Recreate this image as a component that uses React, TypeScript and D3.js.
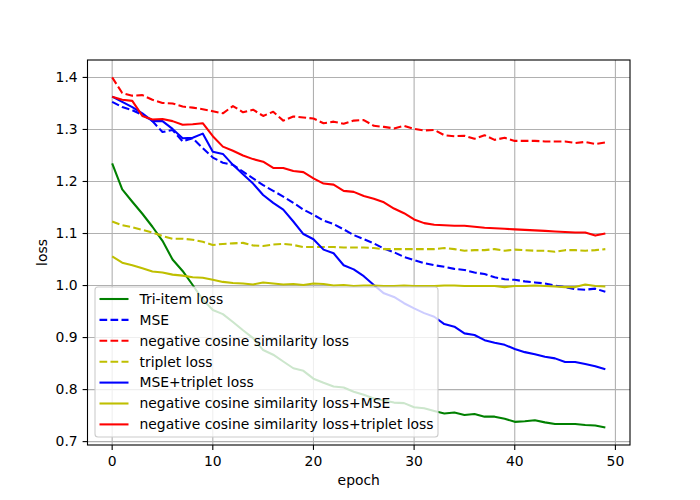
import React from 'react';
import * as d3 from 'd3';

// epochs 0..49
const epochs: number[] = d3.range(0, 50);

const triItem = [
  1.235, 1.185, 1.161, 1.138, 1.113, 1.086, 1.05, 1.028, 1.001, 0.973,
  0.953, 0.945, 0.93, 0.914, 0.899, 0.876, 0.867, 0.854, 0.841, 0.836,
  0.821, 0.813, 0.806, 0.804, 0.796, 0.79, 0.783, 0.779, 0.775, 0.774,
  0.766, 0.764, 0.759, 0.754, 0.756, 0.751, 0.753, 0.748, 0.748, 0.744,
  0.738, 0.739, 0.741, 0.737, 0.734, 0.734, 0.734, 0.732, 0.731, 0.727,
];
const mse = [
  1.353, 1.343, 1.337, 1.328, 1.316, 1.295, 1.299, 1.277, 1.283, 1.264,
  1.246, 1.236, 1.232, 1.219, 1.206, 1.193, 1.182, 1.171, 1.159, 1.146,
  1.136, 1.125, 1.118, 1.108, 1.097, 1.089, 1.081, 1.071, 1.064, 1.055,
  1.049, 1.043, 1.039, 1.036, 1.032, 1.03, 1.025, 1.022, 1.016, 1.012,
  1.011, 1.008, 1.006, 1.004, 1.0, 0.997, 0.993, 0.992, 0.994, 0.988,
];
const negCos = [
  1.4, 1.37, 1.365, 1.366, 1.357, 1.351, 1.35, 1.344, 1.342, 1.339,
  1.335, 1.331, 1.345, 1.333, 1.338, 1.326, 1.334, 1.317, 1.325, 1.323,
  1.321, 1.312, 1.315, 1.311, 1.317, 1.318, 1.307, 1.305, 1.302, 1.307,
  1.301, 1.298, 1.299, 1.289, 1.287, 1.288, 1.282, 1.289, 1.28, 1.284,
  1.278, 1.278, 1.278, 1.277, 1.277, 1.277, 1.274, 1.276, 1.272, 1.275,
];
const triplet = [
  1.123, 1.116, 1.112, 1.107, 1.102, 1.095, 1.09, 1.09, 1.088, 1.084,
  1.078, 1.08, 1.081, 1.082, 1.077, 1.076, 1.079, 1.08, 1.078, 1.074,
  1.074, 1.074, 1.074, 1.073, 1.073, 1.073, 1.072, 1.07, 1.07, 1.07,
  1.07, 1.07, 1.07, 1.072, 1.07, 1.067, 1.068, 1.068, 1.07, 1.067,
  1.069, 1.068, 1.067, 1.067, 1.065, 1.068, 1.068, 1.067, 1.068, 1.07,
];
const mseTriplet = [
  1.363, 1.353, 1.343, 1.331, 1.316, 1.316, 1.301, 1.283, 1.284, 1.292,
  1.257, 1.253, 1.232, 1.214, 1.196, 1.174, 1.159, 1.146, 1.123, 1.099,
  1.089, 1.069, 1.062, 1.039, 1.031, 1.018, 1.001, 0.985, 0.978, 0.966,
  0.956, 0.947, 0.94, 0.926, 0.921, 0.908, 0.905, 0.895, 0.89, 0.886,
  0.878, 0.872, 0.868, 0.863, 0.86, 0.853, 0.853, 0.849, 0.845, 0.839,
];
const negCosMse = [
  1.056, 1.044, 1.039, 1.033, 1.027, 1.025, 1.021, 1.019, 1.016, 1.015,
  1.011, 1.007, 1.005, 1.004, 1.002, 1.006, 1.004, 1.002, 1.003, 1.001,
  1.004, 1.003, 1.0, 1.001, 0.999, 1.0, 1.0, 0.999, 0.999, 1.0,
  0.999, 0.999, 0.999, 1.0, 1.0, 0.999, 0.999, 0.999, 0.999, 0.997,
  0.999, 0.999, 1.0, 0.999, 0.998, 0.997, 0.997, 1.002, 0.999, 0.998,
];
const negCosTriplet = [
  1.363, 1.357, 1.355, 1.326, 1.319, 1.32, 1.316, 1.309, 1.31, 1.312,
  1.287, 1.267, 1.259, 1.25, 1.243, 1.238, 1.226, 1.226, 1.22, 1.218,
  1.206, 1.196, 1.194, 1.182, 1.18, 1.172, 1.167, 1.16, 1.148, 1.139,
  1.127, 1.12, 1.117, 1.116, 1.115, 1.115, 1.113, 1.111, 1.11, 1.109,
  1.108, 1.107, 1.106, 1.105, 1.104, 1.103, 1.102, 1.102, 1.096, 1.1,
];

const xTicks = [0, 10, 20, 30, 40, 50];
const yTicks = [0.7, 0.8, 0.9, 1.0, 1.1, 1.2, 1.3, 1.4];

const series = [
  { label: 'Tri-item loss', values: triItem, color: '#008000', dashed: false },
  { label: 'MSE', values: mse, color: '#0000ff', dashed: true },
  { label: 'negative cosine similarity loss', values: negCos, color: '#ff0000', dashed: true },
  { label: 'triplet loss', values: triplet, color: '#bfbf00', dashed: true },
  { label: 'MSE+triplet loss', values: mseTriplet, color: '#0000ff', dashed: false },
  { label: 'negative cosine similarity loss+MSE', values: negCosMse, color: '#bfbf00', dashed: false },
  { label: 'negative cosine similarity loss+triplet loss', values: negCosTriplet, color: '#ff0000', dashed: false },
];

const W = 700;
const H = 500;
const margin = { top: 60, right: 70, bottom: 55, left: 87.5 };
const font = 'DejaVu Sans, sans-serif';

const App: React.FC = () => {
  const x = d3.scaleLinear().domain([-2.45, 51.45]).range([margin.left, W - margin.right]);
  const y = d3.scaleLinear().domain([0.6935, 1.4335]).range([H - margin.bottom, margin.top]);

  const line = (vals: number[]) =>
    d3
      .line<number>()
      .x((_, i) => x(epochs[i]))
      .y((d) => y(d))(vals) || '';

  const legendX = 95;
  const legendY = 287;
  const rowH = 20.9;

  return (
    <svg
      width={W}
      height={H}
      style={{ position: 'absolute', left: 0, top: 0, background: '#fff' }}
      fontFamily={font}
    >
      <rect x={0} y={0} width={W} height={H} fill="#fff" />
      {/* grid */}
      {xTicks.map((t) => (
        <line key={'gx' + t} x1={x(t)} x2={x(t)} y1={margin.top} y2={H - margin.bottom} stroke="#b0b0b0" strokeWidth={1.1} />
      ))}
      {yTicks.map((t) => (
        <line key={'gy' + t} x1={margin.left} x2={W - margin.right} y1={y(t)} y2={y(t)} stroke="#b0b0b0" strokeWidth={1.1} />
      ))}

      {/* lines */}
      {series.map((s) => (
        <path
          key={s.label}
          d={line(s.values)}
          fill="none"
          stroke={s.color}
          strokeWidth={2.08}
          strokeDasharray={s.dashed ? '7.7 3.3' : undefined}
          strokeLinejoin="round"
        />
      ))}

      {/* spines */}
      <rect
        x={margin.left}
        y={margin.top}
        width={W - margin.left - margin.right}
        height={H - margin.top - margin.bottom}
        fill="none"
        stroke="#000"
        strokeWidth={1.1}
      />

      {/* x axis ticks */}
      {xTicks.map((t) => (
        <g key={'xt' + t}>
          <line x1={x(t)} x2={x(t)} y1={H - margin.bottom} y2={H - margin.bottom + 4.9} stroke="#000" strokeWidth={1.1} />
          <text x={x(t)} y={H - margin.bottom + 20.5} textAnchor="middle" fontSize={13.9} fill="#000">
            {t}
          </text>
        </g>
      ))}
      {/* y axis ticks */}
      {yTicks.map((t) => (
        <g key={'yt' + t}>
          <line x1={margin.left - 4.9} x2={margin.left} y1={y(t)} y2={y(t)} stroke="#000" strokeWidth={1.1} />
          <text x={margin.left - 9.8} y={y(t)} dy="0.35em" textAnchor="end" fontSize={13.9} fill="#000">
            {d3.format('.1f')(t)}
          </text>
        </g>
      ))}

      <text x={(margin.left + W - margin.right) / 2} y={485} textAnchor="middle" fontSize={13.9} fill="#000">
        epoch
      </text>
      <text
        transform={`translate(47,${(margin.top + H - margin.bottom) / 2}) rotate(-90)`}
        textAnchor="middle"
        fontSize={13.9}
        fill="#000"
      >
        loss
      </text>

      {/* legend */}
      <rect
        x={legendX}
        y={legendY}
        width={343}
        height={150}
        rx={3}
        fill="#fff"
        fillOpacity={0.8}
        stroke="#cccccc"
        strokeWidth={1.1}
      />
      {series.map((s, i) => {
        const cy = legendY + 12 + i * rowH;
        return (
          <g key={'lg' + s.label}>
            <line
              x1={legendX + 4.5}
              x2={legendX + 33.5}
              y1={cy}
              y2={cy}
              stroke={s.color}
              strokeWidth={2.08}
              strokeDasharray={s.dashed ? '7.7 3.3' : undefined}
            />
            <text x={legendX + 44.5} y={cy} dy="0.35em" fontSize={13.9} fill="#000">
              {s.label}
            </text>
          </g>
        );
      })}
    </svg>
  );
};

export default App;
